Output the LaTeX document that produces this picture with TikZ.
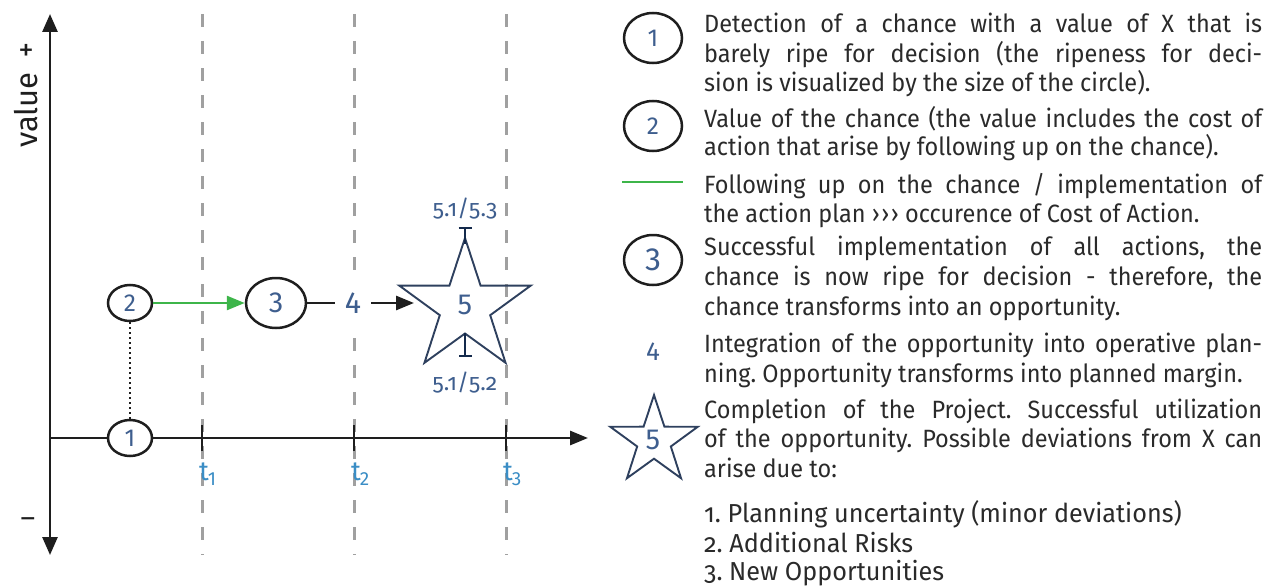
\documentclass[tikz,border=0pt]{standalone}
\usepackage{fontspec}
\setmainfont{Fira Sans}
\newfontfamily\osf{Fira Sans}[Numbers=OldStyle]
\newfontfamily\legf{Fira Sans}[FakeStretch=0.94]
\newfontfamily\legosf{Fira Sans}[FakeStretch=0.97,Numbers=OldStyle]
\usetikzlibrary{arrows.meta,shapes.geometric}
\definecolor{numblue}{HTML}{3E5E8E}
\definecolor{tblue}{HTML}{3A8DC5}
\definecolor{starcol}{HTML}{2E405E}
\definecolor{barcol}{HTML}{142A4C}
\definecolor{grn}{HTML}{3DB54A}
\definecolor{dgray}{HTML}{A0A0A0}
\definecolor{ink}{HTML}{1E1E1E}
\definecolor{txt}{HTML}{2A2A2A}
\frenchspacing
\newcommand\fsz[1]{\fontsize{#1}{#1}\selectfont}
\newcommand\mystarpath[3]{%
  \draw[starline] (#1) +(-90:#2) -- +(-126:#3) -- +(-162:#2) -- +(-198:#3) -- +(-234:#2) -- +(-270:#3) -- +(-306:#2) -- +(-342:#3) -- +(-18:#2) -- +(-54:#3) -- cycle;}
\newcommand\jline[1]{\makebox[558pt][s]{#1}}
\tikzset{
  axisline/.style={draw=ink, line width=2.8pt},
  gridline/.style={draw=dgray, line width=3pt, dash pattern=on 13pt off 14pt},
  circ/.style={ellipse, draw=ink, line width=2.5pt, fill=white, inner sep=0pt, text=numblue},
  num/.style={text=numblue, inner sep=0pt},
  conn/.style={draw=ink, line width=2.8pt},
  tip/.style={-{Triangle[length=18pt,width=14pt]}},
  greenline/.style={draw=grn, line width=2.8pt},
  starline/.style={draw=starcol, line width=1.9pt, line join=miter},
  errbar/.style={draw=barcol, line width=2.3pt},
  tlabel/.style={text=tblue, anchor=base west, inner sep=0pt, font=\fsz{27}},
  osflbl/.style={text=numblue, anchor=base, inner sep=0pt, font=\osf\fsz{23}},
  legtxt/.style={text=txt, anchor=base west, inner sep=0pt, font=\legf\fsz{25}},
  listtxt/.style={text=txt, anchor=base west, inner sep=0pt, font=\legosf\fsz{26}},
}
\begin{document}
\begin{tikzpicture}[x=1pt,y=-1pt]
\useasboundingbox (0,0) rectangle (1276,586);
% dashed time lines
\draw[gridline] (202,14) -- (202,555);
\draw[gridline] (354,14) -- (354,555);
\draw[gridline] (506,14) -- (506,555);
% axes
\draw[axisline, {Triangle[length=18pt,width=15pt]}-{Triangle[length=18pt,width=15pt]}] (50,555) -- (50,14);
\draw[axisline, -{Triangle[length=18pt,width=14pt]}] (50,438) -- (588,438);
\draw[axisline] (202,425) -- (202,451);
\draw[axisline] (354,425) -- (354,451);
\draw[axisline] (506,425) -- (506,451);
% axis labels
\node[rotate=90, text=ink, inner sep=0pt, font=\fsz{31}] (val) at (26,110) {value};
\node[text=ink, inner sep=0pt, font=\fsz{31}] (plus) at (26,52) {+};
\node[text=ink, inner sep=0pt, font=\fsz{28}] (minus) at (28,523) {–};
\node[tlabel] (t1) at (199,480) {t\kern-1pt\raisebox{-0.22em}{\fsz{19}1}};
\node[tlabel] (t2) at (351,480) {t\kern-1pt\raisebox{-0.22em}{\fsz{19}2}};
\node[tlabel] (t3) at (503,480) {t\kern-1pt\raisebox{-0.22em}{\fsz{19}3}};
% chance circles
\node[circ, minimum width=44pt, minimum height=36pt, font=\fsz{24.5}] (c1) at (130,438) {1};
\node[circ, minimum width=44pt, minimum height=36pt, font=\fsz{24.5}] (c2) at (130,303) {2};
\node[circ, minimum width=60pt, minimum height=50pt, font=\fsz{29}] (c3) at (276,303) {3};
\draw[draw=ink, line width=2.2pt, dash pattern=on 2pt off 3pt] (c2) -- (c1);
\draw[greenline, -{Triangle[length=18pt,width=14pt]}] (c2) -- (c3);
\node[num, fill=white, minimum width=36pt, minimum height=54pt, font=\fsz{30.5}] (n4) at (353,303) {4};
\draw[conn] (c3) -- (n4);
\coordinate (a5) at (414,303);
\draw[conn, tip] (n4) -- (a5);
% star 5
\coordinate (sc) at (465,307);
\mystarpath{sc}{69}{26.5}
\node[num, font=\fsz{29}] (n5) at (465,305) {5};
\coordinate (et) at (465,227);
\coordinate (s5top) at (465,244);
\coordinate (s5in) at (465,333);
\coordinate (eb) at (465,357);
\draw[errbar, {Bar[width=13pt]}-] (et) -- (s5top);
\draw[errbar, -{Bar[width=13pt]}] (s5in) -- (eb);
\node[osflbl] (l53) at (465,216) {5.1/5.3};
\node[osflbl] (l52) at (465,390) {5.1/5.2};
% legend symbols
\node[circ, minimum width=58pt, minimum height=50pt, font=\fsz{24.5}] (k1) at (653,38) {1};
\node[circ, minimum width=58pt, minimum height=50pt, font=\fsz{24.5}] (k2) at (653,126) {2};
\coordinate (g1) at (622,182);
\coordinate (g2) at (683,182);
\draw[greenline] (g1) -- (g2);
\node[circ, minimum width=58pt, minimum height=50pt, font=\fsz{32}] (k3) at (653,260) {3};
\node[num, font=\fsz{26}] (k4) at (653,352) {4};
\coordinate (ksc) at (654,441);
\mystarpath{ksc}{46}{17.7}
\node[num, font=\fsz{29}] (k5) at (653,440) {5};
% legend text
\node[legtxt] (p1a) at (704,33) {\jline{Detection of a chance with a value of X that is}};
\node[legtxt] (p1b) at (704,63) {\jline{barely ripe for decision (the ripeness for deci-}};
\node[legtxt] (p1c) at (704,92) {sion is visualized by the size of the circle).};
\node[legtxt] (p2a) at (704,127) {\jline{Value of the chance (the value includes the cost of}};
\node[legtxt] (p2b) at (704,155) {action that arise by following up on the chance).};
\node[legtxt] (p3a) at (704,193) {\jline{Following up on the chance / implementation of}};
\node[legtxt] (p3b) at (704,222) {the action plan ›\kern1.5pt›\kern1.5pt› occurence of Cost of Action.};
\node[legtxt] (p4a) at (704,255) {\jline{Successful implementation of all actions, the}};
\node[legtxt] (p4b) at (704,285) {\jline{chance is now ripe for decision - therefore, the}};
\node[legtxt] (p4c) at (704,315) {chance transforms into an opportunity.};
\node[legtxt] (p5a) at (704,352) {\jline{Integration of the opportunity into operative plan-}};
\node[legtxt] (p5b) at (704,382) {ning. Opportunity transforms into planned margin.};
\node[legtxt] (p6a) at (704,418) {\jline{Completion of the Project. Successful utilization}};
\node[legtxt] (p6b) at (704,447) {\jline{of the opportunity. Possible deviations from X can}};
\node[legtxt] (p6c) at (704,477) {arise due to:};
\node[listtxt] (li1) at (704,522) {1. Planning uncertainty (minor deviations)};
\node[listtxt] (li2) at (704,552) {2. Additional Risks};
\node[listtxt] (li3) at (704,580) {3. New Opportunities};
\end{tikzpicture}
\end{document}
